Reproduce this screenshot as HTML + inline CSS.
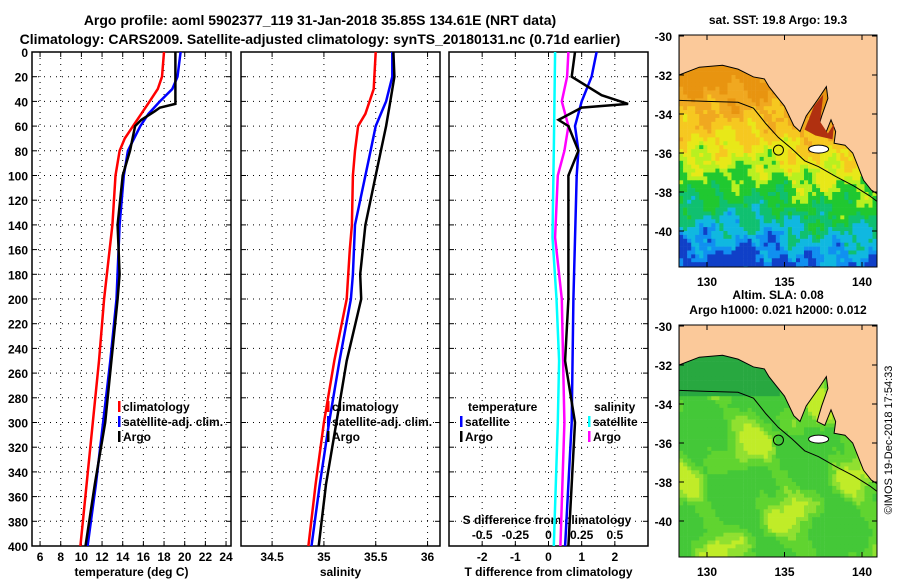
<!DOCTYPE html>
<html><head><meta charset="utf-8">
<style>
body{margin:0;background:#fff}
svg{display:block;font-family:"Liberation Sans",sans-serif;font-weight:bold}
text{font-size:12px;fill:#000}
</style></head>
<body>
<svg id="s" width="900" height="580" xmlns="http://www.w3.org/2000/svg">
<text x="320" y="25" text-anchor="middle" style="font-size:14px">Argo profile: aoml 5902377_119 31-Jan-2018 35.85S 134.61E (NRT data)</text>
<text x="320" y="44" text-anchor="middle" style="font-size:14px">Climatology: CARS2009. Satellite-adjusted climatology: synTS_20180131.nc (0.71d earlier)</text>
<g id="g"></g>
</svg>
<script>
const depthTicks=[0,20,40,60,80,100,120,140,160,180,200,220,240,260,280,300,320,340,360,380,400];
const tempTicks=[6,8,10,12,14,16,18,20,22,24];
const salTicks=[34.5,35,35.5,36];
const tdTicks=[-2,-1,0,1,2];
const sdTicks=[-0.5,-0.25,0,0.25,0.5];
const sdTickLabels=["-0.5","-0.25","0","0.25","0.5"];
const tClimD=[0,10,20,30,40,50,60,70,80,100,140,200,250,300,350,400];
const tClim=[18.0,17.9,17.8,17.4,16.6,15.8,15.0,14.2,13.7,13.3,13.0,12.2,11.7,11.1,10.5,9.9];
const tSatD=[0,20,30,40,50,60,80,100,140,200,250,300,350,400];
const tSat=[19.6,19.3,18.8,17.6,16.5,15.7,14.5,14.1,13.7,13.4,12.8,12.1,11.4,10.6];
const tArgoD=[0,42,45,48,55,60,80,100,140,160,180,200,250,300,350,400];
const tArgo=[19.1,19.1,17.6,17.1,15.8,15.2,14.7,14.0,13.5,13.6,13.7,13.5,12.9,12.3,11.3,10.4];
const sClimD=[0,30,50,60,80,100,140,160,200,250,300,350,400];
const sClim=[35.5,35.48,35.4,35.33,35.3,35.28,35.27,35.25,35.22,35.1,35.0,34.92,34.85];
const sSatD=[0,20,40,60,80,100,140,180,200,250,300,350,400];
const sSat=[35.66,35.66,35.6,35.5,35.45,35.4,35.3,35.28,35.26,35.15,35.05,34.96,34.88];
const sArgoD=[0,20,40,60,80,100,140,180,200,250,300,350,400];
const sArgo=[35.67,35.68,35.64,35.6,35.55,35.5,35.4,35.35,35.36,35.22,35.12,35.02,34.95];
const dTSatD=[0,20,40,60,80,100,200,300,400];
const dTSat=[1.45,1.3,1.0,0.8,0.9,0.85,0.75,0.7,0.5];
const dTArgoD=[0,20,35,42,45,55,60,80,100,200,250,300,350,400];
const dTArgo=[0.8,0.7,1.6,2.4,1.0,0.3,0.6,0.9,0.6,0.6,0.5,0.8,0.7,0.6];
const dSSatD=[0,80,150,200,250,300,400];
const dSSat=[0.05,0.04,0.03,0.06,0.08,0.07,0.04];
const dSArgoD=[0,20,40,60,80,100,150,200,300,400];
const dSArgo=[0.15,0.14,0.1,0.15,0.12,0.07,0.05,0.1,0.12,0.09];
const latTicks=[-30,-32,-34,-36,-38,-40];
const lonTicks=[130,135,140];

const NS='http://www.w3.org/2000/svg';
const G=document.getElementById('g');
function mk(t,a,p){const e=document.createElementNS(NS,t);for(const k in a)e.setAttribute(k,a[k]);(p||G).appendChild(e);return e;}
function tx(x,y,s,anc,name,p,extra){const e=mk('text',Object.assign({x:x,y:y,'text-anchor':anc||'middle'},extra||{}),p);e.textContent=s;


return e;}
const Y0=52,Y1=546;
const yD=d=>Y0+(d/400)*(Y1-Y0);
const panels=[{x0:32,x1:231,v0:5.22,v1:24.48},{x0:241,x1:440,v0:34.2,v1:36.12},{x0:449,x1:648,v0:-3,v1:3}];
const sx=(p,v)=>p.x0+(v-p.v0)/(p.v1-p.v0)*(p.x1-p.x0);
const sxS=v=>sx(panels[2],v*4);

function frame(p,xt,lbl,name){
  const g=mk('g',{});
  
  
  depthTicks.forEach(d=>{if(d>0&&d<400)mk('line',{x1:p.x0,x2:p.x1,y1:yD(d),y2:yD(d),stroke:'#000','stroke-dasharray':'1 5'},g);
    mk('line',{x1:p.x0,x2:p.x0+5,y1:yD(d),y2:yD(d),stroke:'#000'},g);mk('line',{x1:p.x1-5,x2:p.x1,y1:yD(d),y2:yD(d),stroke:'#000'},g);});
  xt.forEach(v=>{const x=sx(p,v);mk('line',{x1:x,x2:x,y1:Y0,y2:Y1,stroke:'#000','stroke-dasharray':'1 5'},g);
    mk('line',{x1:x,x2:x,y1:Y1-5,y2:Y1,stroke:'#000'},g);mk('line',{x1:x,x2:x,y1:Y0,y2:Y0+5,stroke:'#000'},g);
    tx(x,561,String(v),'middle','x-tick-label',g);});
  mk('rect',{x:p.x0,y:Y0,width:p.x1-p.x0,height:Y1-Y0,fill:'none',stroke:'#000','stroke-width':1.5},g);
  tx((p.x0+p.x1)/2,576,lbl,'middle','x-axis-title',g);
  return g;
}
frame(panels[0],tempTicks,'temperature (deg C)','temperature-panel');
frame(panels[1],salTicks,'salinity','salinity-panel');
frame(panels[2],tdTicks,'T difference from climatology','difference-panel');
depthTicks.forEach(d=>tx(28,yD(d)+5,String(d),'end','depth-tick-label'));
sdTicks.forEach((v,i)=>tx(sxS(v),539,sdTickLabels[i],'middle','s-diff-tick-label'));
tx(547,524,'S difference from climatology','middle','s-diff-axis-title');

function line(xs,ds,fx,col,name){
  const pts=xs.map((v,i)=>fx(v).toFixed(1)+','+yD(ds[i]).toFixed(1)).join(' ');
  const e=mk('polyline',{points:pts,fill:'none',stroke:col,'stroke-width':2.5});
  
  
}
const f0=v=>sx(panels[0],v),f1=v=>sx(panels[1],v),f2=v=>sx(panels[2],v);
line(tClim,tClimD,f0,'#f00','temp-climatology-line');
line(tSat,tSatD,f0,'#00f','temp-satellite-line');
line(tArgo,tArgoD,f0,'#000','temp-argo-line');
line(sClim,sClimD,f1,'#f00','sal-climatology-line');
line(sSat,sSatD,f1,'#00f','sal-satellite-line');
line(sArgo,sArgoD,f1,'#000','sal-argo-line');
line(dSSat,dSSatD,sxS,'#0ff','s-diff-satellite-line');
line(dSArgo,dSArgoD,sxS,'#f0f','s-diff-argo-line');
line(dTSat,dTSatD,f2,'#00f','t-diff-satellite-line');
line(dTArgo,dTArgoD,f2,'#000','t-diff-argo-line');

function leg(x,y,col,label){const g=mk('g',{});
  
  
  mk('rect',{x:x,y:y-10,width:2.5,height:11,fill:col},g);tx(x+5,y,label,'start','legend-label',g);}
[[118,'#f00','climatology'],[118,'#00f','satellite-adj. clim.'],[118,'#000','Argo']].forEach((l,i)=>leg(l[0],411+i*15,l[1],l[2]));
[[327,'#f00','climatology'],[327,'#00f','satellite-adj. clim.'],[327,'#000','Argo']].forEach((l,i)=>leg(l[0],411+i*15,l[1],l[2]));
tx(468,411,'temperature','start','legend-header');
tx(594,411,'salinity','start','legend-header');
leg(460,426,'#00f','satellite');leg(460,441,'#000','Argo');
leg(588,426,'#0ff','satellite');leg(588,441,'#f0f','Argo');

// maps
const coast=[[128.2,-32],[129.5,-31.6],[131,-31.5],[132,-31.7],[133,-32.1],[133.7,-32.2],[134,-32.6],[134.5,-33.1],[135,-33.6],[135.6,-34.6],[136,-34.9],[136.4,-34.1],[137.2,-33.2],[137.7,-32.6],[137.8,-33.2],[137.4,-34.1],[137.1,-34.9],[137.6,-35.1],[138,-34.3],[138.3,-34.9],[138.2,-35.5],[138.9,-35.6],[139.4,-36],[139.7,-36.6],[140.1,-37.4],[140.6,-37.9],[141,-38.1]];
const shelf=[[128.2,-33.3],[130,-33.35],[132,-33.4],[133,-33.7],[133.8,-34.5],[134.6,-35.2],[135.5,-35.8],[136.3,-36.4],[137.2,-36.7],[138.3,-37.2],[139.5,-37.7],[140.5,-38.2],[141,-38.5]];
function noise(lon,lat){return (Math.sin(lon*3.1+lat*1.7)+Math.sin(lon*1.3-lat*2.9)+Math.sin(lon*7.7+lat*6.1)*0.6+Math.sin(lon*5.3-lat*8.3)*0.4)/3;}
function smooth(lon,lat){return (Math.sin(lon*1.1+lat*0.7)+Math.sin(lon*0.6-lat*1.3+1)+Math.sin(lon*1.9+lat*2.1)*0.5)/2.5;}
function map(y0,kind,name,title1,title2){
  const LX=lon=>707+(lon-130)*15.5, LY=lat=>y0+1+(-30-lat)*19.5;
  const g=mk('g',{});
  
  
  const cid='c'+y0;
  const cp=mk('clipPath',{id:cid},g);mk('rect',{x:679,y:y0,width:198,height:232},cp);
  const inner=mk('g',{'clip-path':'url(#'+cid+')'},g);
  for(let lat=-31;lat>-42;lat-=0.2)for(let lon=128.2;lon<141;lon+=0.26){
    let c;
    if(kind==0){const n=noise(lon,lat);const t=(-lat-32)+n*1.6-(lon>135?0.8:0);
      c=t<0.8?'#e89410':t<2?'#f0a820':t<3.2?'#f6c820':t<4.2?'#e8e818':t<5?'#b8f020':t<6.3?'#20c830':t<7.3?'#10c070':t<8.3?'#10b8e0':t<9?'#1090f0':'#1040c8';}
    else{const t=smooth(lon,lat)+noise(lon,lat)*0.25;c=(-lat)<33.6&&lon<134.5?'#28a840':t>0.55?'#c0ec28':t>0.3?'#90e030':t>0?'#60d430':'#44c838';}
    mk('rect',{x:LX(lon).toFixed(1),y:LY(lat).toFixed(1),width:4.3,height:4.2,fill:c},inner);}
  const pts=coast.map(p=>LX(p[0])+','+LY(p[1])).concat([LX(141)+','+LY(-38.1),LX(141)+','+LY(-29),LX(128.2)+','+LY(-29)]).join(' ');
  mk('polygon',{points:pts,fill:'#fbc99a',stroke:'#000','stroke-width':1},inner);
  if(kind==0)mk('polygon',{points:[[136.3,-34.8],[136.9,-33.6],[137.5,-33],[137.3,-34.4],[137.8,-35],[138.2,-34.5],[138.1,-35.3],[137,-35.1]].map(p=>LX(p[0])+','+LY(p[1])).join(' '),fill:'#b03010'},inner);
  mk('ellipse',{cx:LX(137.2),cy:LY(-35.8),rx:10,ry:4,fill:'#fff',stroke:'#000'},inner);
  mk('polyline',{points:shelf.map(p=>LX(p[0])+','+LY(p[1])).join(' '),fill:'none',stroke:'#000','stroke-width':1},inner);
  mk('circle',{cx:LX(134.61),cy:LY(-35.85),r:5,fill:'none',stroke:'#000'},inner);
  mk('rect',{x:679,y:y0,width:198,height:232,fill:'none',stroke:'#000'},g);
  latTicks.forEach(l=>{const y=LY(l);tx(672,y+5,String(l),'end','lat-tick-label',g);mk('line',{x1:679,x2:684,y1:y,y2:y,stroke:'#000'},g);mk('line',{x1:872,x2:877,y1:y,y2:y,stroke:'#000'},g);});
  lonTicks.forEach(l=>{const x=LX(l);tx(x,y0+251,String(l),'middle','lon-tick-label',g);mk('line',{x1:x,x2:x,y1:y0,y2:y0+5,stroke:'#000'},g);mk('line',{x1:x,x2:x,y1:y0+227,y2:y0+232,stroke:'#000'},g);});
  tx(778,y0-11-(title2?15:0),title1,'middle','map-title',g);
  if(title2)tx(778,y0-11,title2,'middle','map-title-2',g);
}
map(35,0,'sst-map','sat. SST: 19.8 Argo: 19.3');
map(325,1,'sla-map','Altim. SLA: 0.08','Argo h1000: 0.021 h2000: 0.012');
tx(892,440,'©IMOS 19-Dec-2018 17:54:33','middle','timestamp',null,{transform:'rotate(-90 892 440)','style':'font-size:11px;font-weight:normal'});
</script>
</body></html>
